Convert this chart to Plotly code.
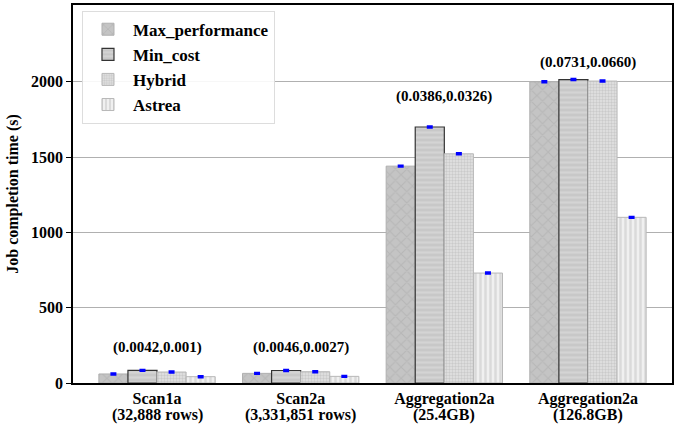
import plotly.graph_objects as go

cat_names = ["Scan1a", "Scan2a", "Aggregation2a", "Aggregation2a"]
cat_sub = ["(32,888 rows)", "(3,331,851 rows)", "(25.4GB)", "(126.8GB)"]
series_names = ["Max_performance", "Min_cost", "Hybrid", "Astrea"]
max_perf = [60, 64, 1440, 2000]
min_cost = [84, 83, 1700, 2015]
hybrid = [73, 75, 1522, 2005]
astrea = [42, 44, 730, 1100]
errors = [3, 3, 3, 3]
annot_text = ["(0.0042,0.001)", "(0.0046,0.0027)", "(0.0386,0.0326)", "(0.0731,0.0660)"]
annot_y = [235, 235, 1900, 2130]
y_ticks = [0, 500, 1000, 1500, 2000]

FONT = "Liberation Serif, Times New Roman, serif"
categories = list(range(len(cat_names)))

styles = [
    dict(shape="x", bgcolor="#c4c4c4", fgcolor="#aaaaaa", size=8, solidity=0.25, line="#b0b0b0", lw=1),
    dict(shape="-", bgcolor="#c8c8c8", fgcolor="#e0e0e0", size=5, solidity=0.45, line="#333333", lw=1.2),
    dict(shape=".", bgcolor="#e4e4e4", fgcolor="#b0b0b0", size=3, solidity=0.5, line="#b8b8b8", lw=1),
    dict(shape="|", bgcolor="#f0f0f0", fgcolor="#c4c4c4", size=5, solidity=0.5, line="#b8b8b8", lw=1),
]

fig = go.Figure()
for name, vals, st in zip(series_names, [max_perf, min_cost, hybrid, astrea], styles):
    fig.add_trace(go.Bar(
        x=categories, y=vals, name="<b>" + name + "</b>",
        marker=dict(color=st["bgcolor"],
                    pattern=dict(shape=st["shape"], bgcolor=st["bgcolor"], fgcolor=st["fgcolor"],
                                 size=st["size"], solidity=st["solidity"], fillmode="overlay"),
                    line=dict(color=st["line"], width=st["lw"])),
        error_y=dict(type="data", array=errors, color="blue", thickness=2.5, width=3),
    ))

for cat, txt, yv in zip(categories, annot_text, annot_y):
    fig.add_annotation(x=cat, y=yv, text="<b>" + txt + "</b>", showarrow=False,
                       font=dict(family=FONT, size=15, color="black"))

for cat, sub in zip(categories, cat_sub):
    fig.add_annotation(x=cat, y=0, yref="y", text="<b>" + sub + "</b>", showarrow=False,
                       yanchor="top", yshift=-21, font=dict(family=FONT, size=16, color="black"))

fig.update_layout(
    width=683, height=425,
    margin=dict(l=73, r=11, t=5, b=42, autoexpand=False),
    paper_bgcolor="white", plot_bgcolor="white",
    font=dict(family=FONT, size=17, color="black"),
    barmode="group", bargap=0.19, bargroupgap=0,
    showlegend=True,
    legend=dict(x=0.015, y=0.985, xanchor="left", yanchor="top",
                bgcolor="rgba(255,255,255,0.9)", bordercolor="#dddddd", borderwidth=1,
                font=dict(family=FONT, size=17, color="black"),
                itemwidth=40, tracegroupgap=4),
    xaxis=dict(range=[-0.585, 3.585], showline=True, linecolor="black", linewidth=1.5,
               mirror=True, ticks="", showgrid=False, automargin=False,
               tickvals=categories, ticktext=["<b>" + c + "</b>" for c in cat_names],
               tickfont=dict(family=FONT, size=16, color="black")),
    yaxis=dict(range=[0, 2510], tickvals=y_ticks, ticktext=["<b>%d</b>" % v for v in y_ticks],
               showline=True, linecolor="black", linewidth=1.5, mirror=True,
               ticks="outside", ticklen=5, tickcolor="black", automargin=False,
               showgrid=True, gridcolor="#b0b0b0", gridwidth=1, zeroline=False,
               title=dict(text="<b>Job completion time (s)</b>", standoff=8,
                          font=dict(family=FONT, size=16, color="black")),
               tickfont=dict(family=FONT, size=16, color="black")),
)

fig.write_html("out.html")
